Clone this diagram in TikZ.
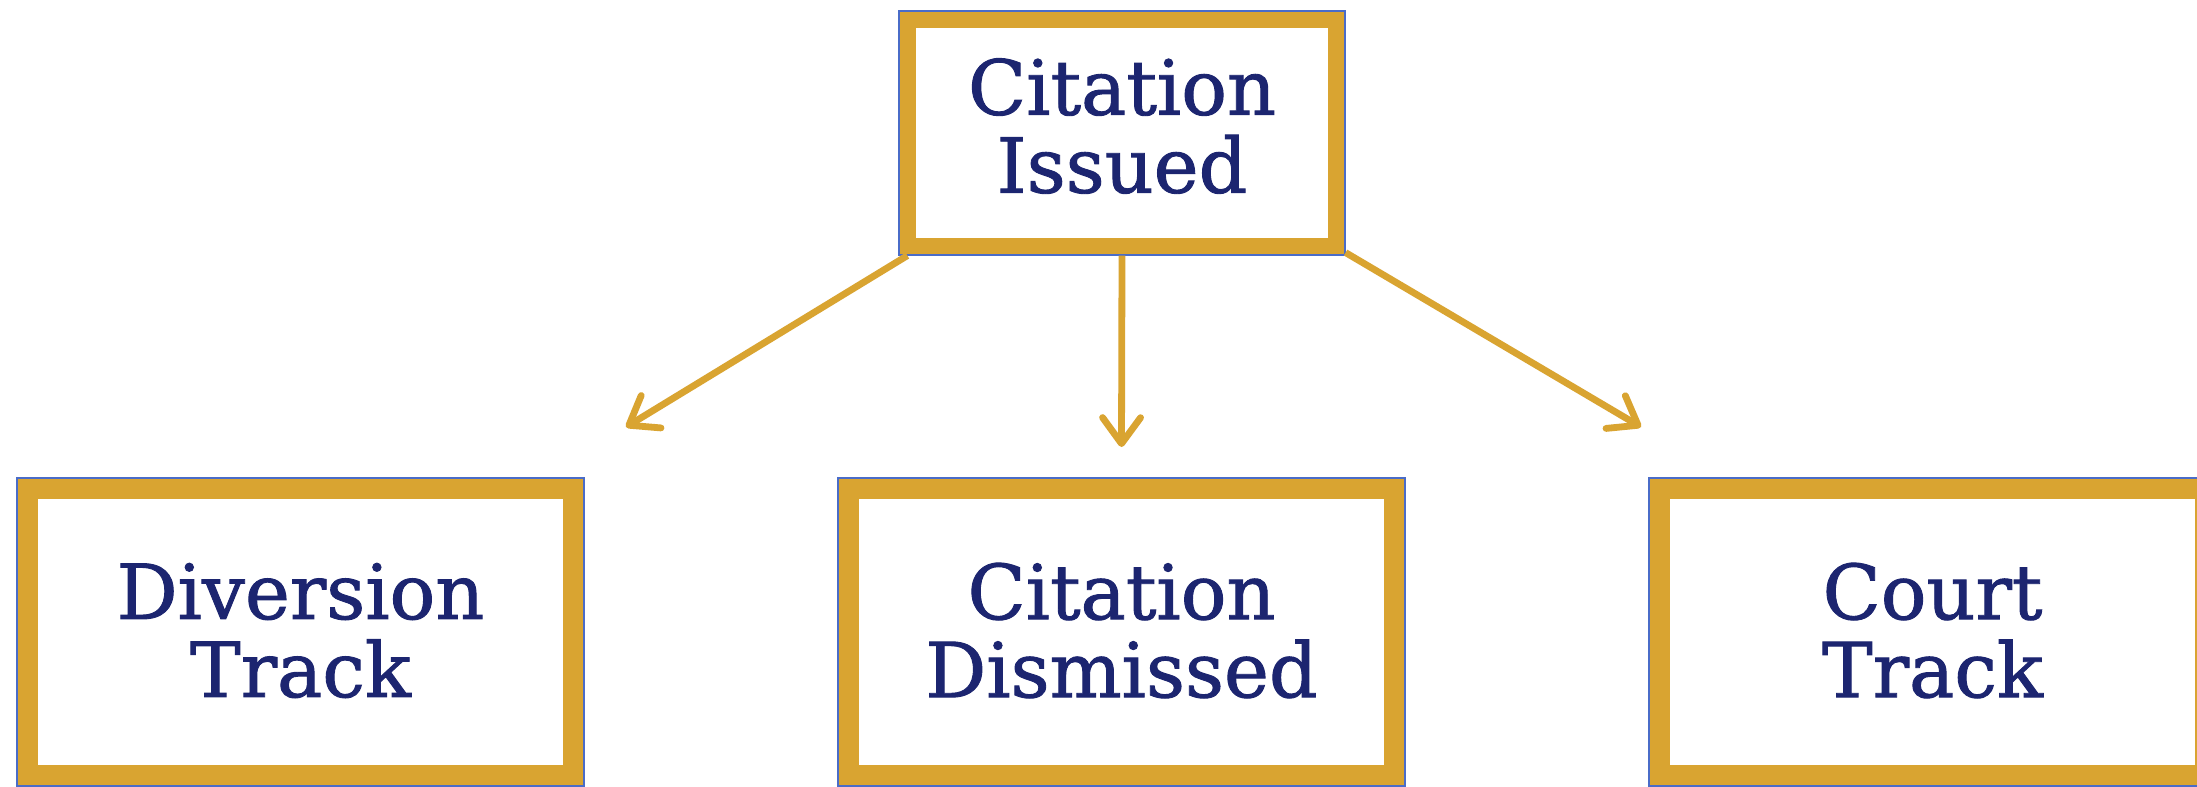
\documentclass[tikz,border=0pt]{standalone}
\usepackage{fontspec}
\newfontfamily\boxfont[FakeBold=1.2]{DejaVu Serif}
\usetikzlibrary{arrows.meta,calc}
\definecolor{gold}{HTML}{D9A431}
\definecolor{navy}{HTML}{1C2570}
\definecolor{edgeblue}{HTML}{4A6CC8}
\tikzset{
  bw/.initial=8.5pt,
  framebox/.style={rectangle, fill=gold, draw=edgeblue, line width=0.6pt,
    text=navy, align=center, inner sep=0pt,
    font=\boxfont\fontsize{38}{39}\selectfont,
    path picture={\fill[white]
      ($(path picture bounding box.south west)+(\pgfkeysvalueof{/tikz/bw},\pgfkeysvalueof{/tikz/bw})$)
      rectangle
      ($(path picture bounding box.north east)-(\pgfkeysvalueof{/tikz/bw},\pgfkeysvalueof{/tikz/bw})$);}},
  topbox/.style={framebox, bw=8.5pt, minimum width=223pt, minimum height=122pt, text depth=7.5pt},
  lowbox/.style={framebox, bw=10.5pt, minimum width=283.5pt, minimum height=154pt, text depth=2pt},
  conn/.style={draw=gold, line width=3.4pt,
    -{Straight Barb[length=13pt, width=19pt, round]}}
}
\begin{document}
\begin{tikzpicture}[x=0.5pt, y=-0.5pt]
\clip (0,0) rectangle (2197,787);
\fill[white] (0,0) rectangle (2197,787);
\node[topbox] (top) at (1122,133) {Citation\\Issued};
\node[lowbox] (div) at (300.5,632) {Diversion\\Track};
\node[lowbox] (dis) at (1121.5,632) {Citation\\Dismissed};
\node[lowbox] (court) at (1932.5,632) {Court\\Track};
\coordinate (lt) at (626,427);
\coordinate (mt) at (1121.5,447);
\coordinate (rt) at (1641,427);
\draw[conn] ($(top.south west)+(9,0)$) -- (lt);
\draw[conn] (top.south) -- (mt);
\draw[conn] ($(top.south east)+(0,-3)$) -- (rt);
\end{tikzpicture}
\end{document}
